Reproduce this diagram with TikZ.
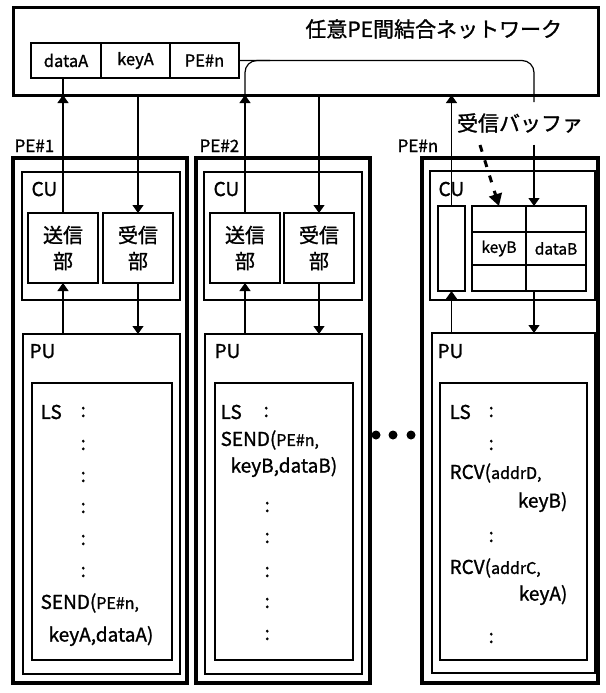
\documentclass[tikz,border=0pt]{standalone}
\usepackage{fontspec}
\setmainfont{Noto Sans CJK JP}[FakeBold=1.2]
\usetikzlibrary{arrows.meta, positioning, calc}
\newcommand{\lsmall}{\fontsize{16}{16}\selectfont}

\begin{document}
\begin{tikzpicture}[x=1pt, y=-1pt,
  >={Triangle[width=11pt,length=8pt]}, line width=1.2pt, font=\fontsize{16.5}{18}\selectfont,
  bx/.style={rectangle, draw, line width=1.2pt, anchor=north west, inner sep=0pt, outer sep=0pt},
  pe/.style={bx, line width=3.5pt},
  cell/.style={bx, minimum height=35pt},
  unit/.style={rectangle, draw, align=center, inner sep=0pt, outer sep=0pt, minimum width=70pt, minimum height=70pt, font=\fontsize{20}{26}\selectfont},
  hd/.style={anchor=base west, inner sep=0pt, font=\fontsize{19}{19}\selectfont},
  ls/.style={anchor=west, inner sep=0pt, font=\fontsize{19}{19}\selectfont},
  dot/.style={circle, fill, inner sep=0pt, minimum size=9pt},
  a/.style={->}]
\useasboundingbox (0,0) rectangle (605,693);
% network
\node[pe, line width=3pt, minimum width=585pt, minimum height=87pt] (net) at (13,8) {};
\node[anchor=east, font=\fontsize{21}{21}\selectfont] (ttl) at (566,29) {任意PE間結合ネットワーク};
\node[cell, minimum width=70pt] (da) at (31,43) {dataA};
\node[cell, minimum width=69pt] (ka) at (101,43) {keyA};
\node[cell, minimum width=69pt] (pn) at (170,43) {PE\#n};
% PE boxes
\node[anchor=base west, inner sep=0pt, font=\fontsize{17}{17}\selectfont] (l1) at (14,152) {PE\#1};
\node[anchor=base west, inner sep=0pt, font=\fontsize{17}{17}\selectfont] (l2) at (199,152) {PE\#2};
\node[anchor=base west, inner sep=0pt, font=\fontsize{17}{17}\selectfont] (ln) at (397,152) {PE\#n};
\node[pe, minimum width=174pt, minimum height=525pt] (pe1) at (13,158) {};
\node[pe, minimum width=174pt, minimum height=525pt] (pe2) at (196,158) {};
\node[pe, minimum width=176pt, minimum height=525pt] (pen) at (422,158) {};
% CU
\node[bx, minimum width=158pt, minimum height=128pt] (cu1) at (22,172) {};
\node[bx, minimum width=158pt, minimum height=128pt] (cu2) at (204,172) {};
\node[bx, minimum width=165pt, minimum height=129pt] (cun) at (430,171) {};
\node[hd] (c1) at (31,196) {CU};
\node[hd] (c2) at (213,196) {CU};
\node[hd] (cn) at (438,196) {CU};
\node[unit] (s1) at (63,248) {送信\\部};
\node[unit] (r1) at (138,248) {受信\\部};
\node[unit] (s2) at (245,248) {送信\\部};
\node[unit] (r2) at (319,248) {受信\\部};
\node[bx, minimum width=27pt, minimum height=85pt] (sm) at (438,206) {};
\node[bx, minimum width=54pt, minimum height=26pt] (b11) at (472,206) {};
\node[bx, minimum width=60pt, minimum height=26pt] (b12) at (526,206) {};
\node[bx, minimum width=54pt, minimum height=33pt, font=\fontsize{15.5}{15.5}\selectfont] (b21) at (472,232) {keyB};
\node[bx, minimum width=60pt, minimum height=33pt, font=\fontsize{15.5}{15.5}\selectfont] (b22) at (526,232) {dataB};
\node[bx, minimum width=54pt, minimum height=26pt] (b31) at (472,265) {};
\node[bx, minimum width=60pt, minimum height=26pt] (b32) at (526,265) {};
\coordinate (rx) at (534,0);
\node[font=\fontsize{21}{21}\selectfont] (buf) at (520,123) {受信バッファ};
\coordinate (bs) at (480,145);
% PU
\node[bx, minimum width=157pt, minimum height=340pt] (pu1) at (23,334) {};
\node[bx, minimum width=157pt, minimum height=340pt] (pu2) at (205,334) {};
\node[bx, minimum width=163pt, minimum height=340pt] (pun) at (432,333) {};
\node[hd] (u1) at (29,358) {PU};
\node[hd] (u2) at (214,358) {PU};
\node[hd] (un) at (437,358) {PU};
\node[bx, minimum width=140pt, minimum height=277pt] (ls1) at (32,383) {};
\node[bx, minimum width=138pt, minimum height=277pt] (ls2) at (215,383) {};
\node[bx, minimum width=147pt, minimum height=277pt] (lsn) at (440,383) {};
% LS of PE#1
\node[ls] (t11) at (40,412) {LS};
\node[ls] (t12) at (80,412) {:};
\node[ls] (t13) at (80,445) {:};
\node[ls] (t14) at (80,477) {:};
\node[ls] (t15) at (80,508) {:};
\node[ls] (t16) at (80,540) {:};
\node[ls] (t17) at (80,572) {:};
\node[ls] (t18) at (40,603) {SEND({\lsmall PE\#n,}};
\node[ls] (t19) at (48,636) {keyA,dataA)};
% LS of PE#2
\node[ls] (t21) at (220,412) {LS};
\node[ls] (t22) at (263,412) {:};
\node[ls] (t23) at (220,440) {SEND({\lsmall PE\#n,}};
\node[ls] (t24) at (230,467) {keyB,dataB)};
\node[ls] (t25) at (264,507) {:};
\node[ls] (t26) at (264,538) {:};
\node[ls] (t27) at (264,572) {:};
\node[ls] (t28) at (264,603) {:};
\node[ls] (t29) at (264,635) {:};
% LS of PE#n
\node[ls] (tn1) at (449,412) {LS};
\node[ls] (tn2) at (488,412) {:};
\node[ls] (tn3) at (488,445) {:};
\node[ls] (tn4) at (449,473) {RCV({\lsmall addrD,}};
\node[ls, anchor=east] (tn5) at (568,502) {keyB)};
\node[ls] (tn6) at (488,537) {:};
\node[ls] (tn7) at (449,568) {RCV({\lsmall addrC,}};
\node[ls, anchor=east] (tn8) at (568,595) {keyA)};
\node[ls] (tn9) at (488,638) {:};
% dots
\node[dot] (d1) at (376,435) {};
\node[dot] (d2) at (393,435) {};
\node[dot] (d3) at (411,435) {};
% connectors
\draw (s1.north |- da.south) -- (s1.north |- net.south);
\draw[a] (s1.north) -- (s1.north |- net.south);
\draw[a] (r1.north |- net.south) -- (r1.north);
\draw[a] (s2.north) -- (s2.north |- net.south);
\draw[rounded corners=12pt] (s2.north |- net.south) -- (s2.north |- pn.east) -- ++(25,0);
\draw[a] (r2.north |- net.south) -- (r2.north);
\draw[rounded corners=12pt] (pn.east) -- (rx |- pn.east) -- ($(rx |- net.south)+(0,7)$);
\draw[a] (sm.north) -- (sm.north |- net.south);
\draw[a] ($(rx |- buf.south)+(0,8)$) -- (rx |- b12.north);
\draw[line width=3pt, dash pattern=on 7pt off 9pt, -{Triangle[width=13pt,length=12pt]}] (bs) -- (b11.north);
\draw[a] (s1.south |- pu1.north) -- (s1.south);
\draw[a] (r1.south) -- (r1.south |- pu1.north);
\draw[a] (s2.south |- pu2.north) -- (s2.south);
\draw[a] (r2.south) -- (r2.south |- pu2.north);
\draw[a] (sm.south |- pun.north) -- (sm.south);
\draw[a] (rx |- b32.south) -- (rx |- pun.north);
\end{tikzpicture}
\end{document}
